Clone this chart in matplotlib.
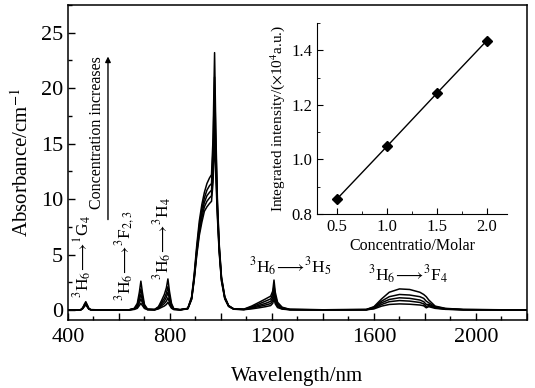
import matplotlib
matplotlib.use('Agg')
import matplotlib.pyplot as plt
from matplotlib.ticker import MultipleLocator, FuncFormatter

plt.rcParams['font.family'] = ['Liberation Serif', 'DejaVu Serif']
plt.rcParams['mathtext.fontset'] = 'stix'

# wavelength grid (nm) and absorbance (cm^-1), lowest to highest concentration
wl = [400, 450, 458, 465, 470, 475, 482, 490,
      550, 640, 660, 672, 680, 686, 692, 700, 712,
      740, 755, 768, 778, 786, 792, 798, 806, 815,
      840, 870, 885, 895, 905, 915, 925, 935, 945, 955,
      963, 969, 975, 980, 986, 993, 1002, 1015, 1030, 1050,
      1090, 1120, 1150, 1175, 1195, 1203, 1208, 1213, 1222, 1240,
      1270, 1400, 1570, 1600, 1630, 1660, 1700, 1740, 1780, 1795,
      1805, 1815, 1840, 1880, 1950, 2200]

c1 = [0.0, 0.01, 0.12, 0.33, 0.45, 0.3, 0.07, 0.02,
      0.0, 0.0, 0.05, 0.15, 0.4, 0.6, 0.4, 0.14, 0.03,
      0.01, 0.1, 0.25, 0.36, 0.5, 0.7, 0.45, 0.16, 0.04,
      0.01, 0.1, 0.95, 2.7, 4.9, 6.7, 7.9, 8.9, 9.3, 9.6,
      9.8, 11.5, 15.5, 12.0, 8.4, 5.2, 2.6, 1.0, 0.32, 0.07,
      0.03, 0.1, 0.2, 0.3, 0.4, 0.6, 1.0, 0.55, 0.22, 0.08,
      0.02, 0.0, 0.02, 0.1, 0.35, 0.5, 0.55, 0.52, 0.45, 0.38,
      0.2, 0.3, 0.15, 0.06, 0.02, 0.0]

c2 = [0.0, 0.01, 0.14, 0.38, 0.5, 0.34, 0.08, 0.02,
      0.0, 0.01, 0.08, 0.25, 0.65, 1.0, 0.65, 0.22, 0.04,
      0.02, 0.15, 0.4, 0.58, 0.8, 1.1, 0.7, 0.25, 0.06,
      0.02, 0.12, 1.0, 2.8, 5.1, 7.0, 8.3, 9.3, 9.8, 10.1,
      10.3, 12.5, 17.0, 13.0, 8.8, 5.4, 2.7, 1.05, 0.34, 0.08,
      0.04, 0.16, 0.32, 0.45, 0.58, 0.85, 1.4, 0.8, 0.32, 0.11,
      0.03, 0.01, 0.02, 0.15, 0.5, 0.75, 0.85, 0.8, 0.68, 0.55,
      0.32, 0.4, 0.2, 0.08, 0.02, 0.0]

c3 = [0.0, 0.02, 0.16, 0.44, 0.6, 0.4, 0.1, 0.02,
      0.0, 0.01, 0.1, 0.35, 0.9, 1.4, 0.9, 0.3, 0.05,
      0.03, 0.2, 0.55, 0.8, 1.15, 1.6, 1.0, 0.35, 0.08,
      0.02, 0.13, 1.05, 2.9, 5.3, 7.3, 8.7, 9.7, 10.3, 10.6,
      10.8, 13.5, 19.0, 14.0, 9.2, 5.6, 2.8, 1.1, 0.36, 0.09,
      0.05, 0.22, 0.42, 0.6, 0.78, 1.1, 1.8, 1.05, 0.42, 0.15,
      0.04, 0.01, 0.03, 0.2, 0.65, 0.95, 1.1, 1.05, 0.9, 0.75,
      0.5, 0.5, 0.25, 0.1, 0.03, 0.0]

c4 = [0.0, 0.02, 0.18, 0.48, 0.65, 0.45, 0.12, 0.03,
      0.0, 0.02, 0.12, 0.45, 1.2, 1.9, 1.2, 0.4, 0.06,
      0.04, 0.25, 0.7, 1.05, 1.5, 2.1, 1.3, 0.45, 0.1,
      0.03, 0.14, 1.1, 3.0, 5.5, 7.6, 9.1, 10.1, 10.8, 11.2,
      11.4, 14.5, 21.0, 15.0, 9.6, 5.8, 2.9, 1.15, 0.38, 0.1,
      0.06, 0.28, 0.55, 0.8, 1.0, 1.4, 2.2, 1.3, 0.55, 0.2,
      0.05, 0.02, 0.04, 0.25, 0.8, 1.2, 1.4, 1.35, 1.2, 1.05,
      0.8, 0.65, 0.3, 0.12, 0.04, 0.0]

c5 = [0.0, 0.02, 0.2, 0.55, 0.75, 0.5, 0.15, 0.03,
      0.0, 0.02, 0.15, 0.6, 1.6, 2.6, 1.6, 0.5, 0.08,
      0.05, 0.3, 0.9, 1.4, 2.0, 2.8, 1.7, 0.6, 0.12,
      0.03, 0.15, 1.2, 3.2, 5.8, 8.0, 9.5, 10.6, 11.4, 11.9,
      12.2, 15.5, 23.2, 16.0, 10.0, 6.0, 3.0, 1.2, 0.4, 0.1,
      0.08, 0.35, 0.7, 1.0, 1.25, 1.7, 2.7, 1.6, 0.7, 0.25,
      0.06, 0.02, 0.05, 0.3, 1.0, 1.6, 1.9, 1.85, 1.6, 1.4,
      1.2, 0.9, 0.35, 0.15, 0.05, 0.0]

spectra = [c1, c2, c3, c4, c5]

# inset: integrated intensity vs concentration
conc = [0.5, 1.0, 1.5, 2.0]
intensity = [0.855, 1.048, 1.243, 1.436]

fig = plt.figure(figsize=(5.35, 3.88), dpi=100)
ax = fig.add_axes([0.127, 0.1753, 0.858, 0.812])
for s in spectra:
    ax.plot(wl, s, color='black', lw=1.1)

ax.set_xlim(400, 2200)
ax.set_ylim(-0.9, 27.5)
ax.xaxis.set_major_locator(MultipleLocator(200))
ax.xaxis.set_minor_locator(MultipleLocator(100))
ax.xaxis.set_major_formatter(FuncFormatter(lambda v, p: '%d' % v if int(v) % 400 == 0 else ''))
ax.yaxis.set_major_locator(MultipleLocator(5))
ax.yaxis.set_minor_locator(MultipleLocator(2.5))
ax.tick_params(which='both', direction='in', labelsize=16)
ax.tick_params(which='major', length=5, width=1)
ax.tick_params(which='minor', length=3, width=1)
ax.tick_params(axis='x', pad=6)
for sp in ax.spines.values():
    sp.set_linewidth(1.1)
ax.set_xlabel('Wavelength/nm', fontsize=15, labelpad=14)
ax.set_ylabel('Absorbance/cm$^{-1}$', fontsize=15, labelpad=6)

ax.text(459, 1.1, r'$^3$H$_6$$\!\longrightarrow\!$$^1$G$_4$', rotation=90, fontsize=12.5,
        ha='center', va='bottom')
ax.text(623, 0.8, r'$^3$H$_6$$\!\longrightarrow\!$$^3$F$_{2,3}$', rotation=90, fontsize=12.5,
        ha='center', va='bottom')
ax.text(772, 2.7, r'$^3$H$_6$$\!\longrightarrow\!$$^3$H$_4$', rotation=90, fontsize=12.5,
        ha='center', va='bottom')
ax.text(1270, 3.9, r'$^3$H$_6$$\!\longrightarrow\!$$^3$H$_5$', fontsize=12.5, ha='center', va='center')
ax.text(1733, 3.2, r'$^3$H$_6$$\!\longrightarrow\!$$^3$F$_4$', fontsize=12.5, ha='center', va='center')
ax.text(514, 16.0, 'Concentration increases', rotation=90, fontsize=11.5, ha='center', va='center')
ax.annotate('', xy=(557, 23.1), xytext=(557, 7.9),
            arrowprops=dict(arrowstyle='-|>', color='black', lw=1.0, mutation_scale=8))

ins = fig.add_axes([0.5925, 0.4485, 0.355, 0.492])
ins.plot(conc, intensity, color='black', lw=1.0, marker='D', ms=5.5)
ins.set_xlim(0.3, 2.2)
ins.set_ylim(0.8, 1.5)
ins.spines['top'].set_visible(False)
ins.spines['right'].set_visible(False)
ins.xaxis.set_major_locator(MultipleLocator(0.5))
ins.xaxis.set_minor_locator(MultipleLocator(0.25))
ins.yaxis.set_major_locator(MultipleLocator(0.2))
ins.yaxis.set_minor_locator(MultipleLocator(0.1))
ins.xaxis.set_major_formatter(FuncFormatter(lambda v, p: '%.1f' % v))
ins.yaxis.set_major_formatter(FuncFormatter(lambda v, p: '%.1f' % v))
ins.tick_params(which='both', direction='in', labelsize=12)
ins.tick_params(which='major', length=4)
ins.tick_params(which='minor', length=2.5)
ins.set_xlabel('Concentratio/Molar', fontsize=11.5, labelpad=2)
ins.set_ylabel(r'Integrated intensity/($\times$10$^4$a.u.)', fontsize=11, labelpad=3)

fig.savefig('out.png', dpi=100)
plt.close()
